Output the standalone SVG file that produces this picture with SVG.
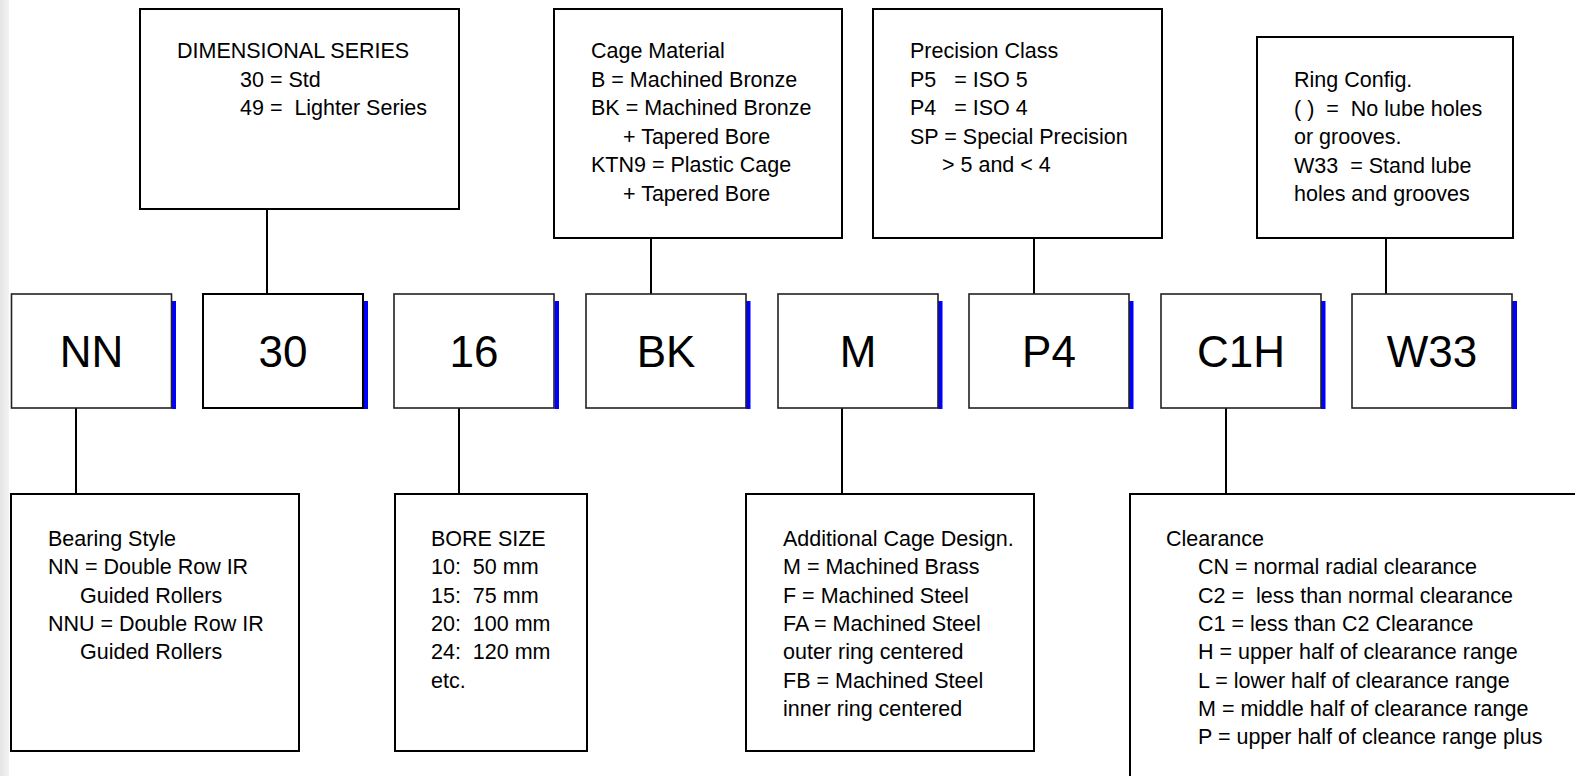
<svg xmlns="http://www.w3.org/2000/svg" width="1575" height="776" viewBox="0 0 1575 776">
<style>
  .t { font-family: "Liberation Sans", Arial, sans-serif; font-size: 21.5px; fill: #000; white-space: pre; }
  .big { font-family: "Liberation Sans", Arial, sans-serif; font-size: 44px; fill: #000; text-anchor: middle; }
  .box { fill: #fff; stroke: #000; stroke-width: 2; }
  .code { fill: #fff; stroke: #222; stroke-width: 1.6; }
  .shadow { fill: #0000ff; }
  .conn line { stroke: #000; stroke-width: 2; }
</style>
<defs>
  <linearGradient id="edge" x1="0" y1="0" x2="1" y2="0">
    <stop offset="0" stop-color="#e4e4e4"/>
    <stop offset="1" stop-color="#f3f3f3"/>
  </linearGradient>
</defs>
<rect x="0" y="0" width="1575" height="776" fill="#fff"/>
<rect x="0" y="0" width="9" height="776" fill="url(#edge)"/>

<g class="conn" id="connectors">
  <line x1="267" y1="209" x2="267" y2="294"/>
  <line x1="651" y1="238" x2="651" y2="294"/>
  <line x1="1034" y1="238" x2="1034" y2="294"/>
  <line x1="1386" y1="238" x2="1386" y2="294"/>
  <line x1="76" y1="408" x2="76" y2="494"/>
  <line x1="459" y1="408" x2="459" y2="494"/>
  <line x1="842" y1="408" x2="842" y2="494"/>
  <line x1="1226" y1="408" x2="1226" y2="494"/>
</g>

<g id="dim-series">
  <rect class="box" x="140" y="9" width="319" height="200"/>
  <text class="t" x="177" y="58">DIMENSIONAL SERIES</text>
  <text class="t" x="240" y="86.5">30 = Std</text>
  <text class="t" x="240" y="115">49 =  Lighter Series</text>
</g>

<g id="cage-material">
  <rect class="box" x="554" y="9" width="288" height="229"/>
  <text class="t" x="591" y="58">Cage Material</text>
  <text class="t" x="591" y="86.5">B = Machined Bronze</text>
  <text class="t" x="591" y="115">BK = Machined Bronze</text>
  <text class="t" x="623" y="143.5">+ Tapered Bore</text>
  <text class="t" x="591" y="172">KTN9 = Plastic Cage</text>
  <text class="t" x="623" y="200.5">+ Tapered Bore</text>
</g>

<g id="precision-class">
  <rect class="box" x="873" y="9" width="289" height="229"/>
  <text class="t" x="910" y="58">Precision Class</text>
  <text class="t" x="910" y="86.5">P5   = ISO 5</text>
  <text class="t" x="910" y="115">P4   = ISO 4</text>
  <text class="t" x="910" y="143.5">SP = Special Precision</text>
  <text class="t" x="942" y="172">&gt; 5 and &lt; 4</text>
</g>

<g id="ring-config">
  <rect class="box" x="1257" y="37" width="256" height="201"/>
  <text class="t" x="1294" y="87">Ring Config.</text>
  <text class="t" x="1294" y="115.5">( )  =  No lube holes</text>
  <text class="t" x="1294" y="144">or grooves.</text>
  <text class="t" x="1294" y="172.5">W33  = Stand lube</text>
  <text class="t" x="1294" y="201">holes and grooves</text>
</g>

<g id="code-NN">
  <rect class="shadow" x="172" y="301" width="4" height="108"/>
  <rect class="code" x="11.5" y="294" width="160" height="114"/>
  <text class="big" x="91.5" y="367">NN</text>
</g>
<g id="code-30">
  <rect class="shadow" x="363.5" y="301" width="4.5" height="108"/>
  <rect class="box" x="203" y="294" width="160" height="114" stroke-width="2.5"/>
  <text class="big" x="283" y="367">30</text>
</g>
<g id="code-16">
  <rect class="shadow" x="554.5" y="301" width="4.5" height="108"/>
  <rect class="code" x="394" y="294" width="160" height="114"/>
  <text class="big" x="474" y="367">16</text>
</g>
<g id="code-BK">
  <rect class="shadow" x="746" y="301" width="4.5" height="108"/>
  <rect class="code" x="586" y="294" width="160" height="114"/>
  <text class="big" x="666" y="367">BK</text>
</g>
<g id="code-M">
  <rect class="shadow" x="938" y="301" width="4.5" height="108"/>
  <rect class="code" x="778" y="294" width="160" height="114"/>
  <text class="big" x="858" y="367">M</text>
</g>
<g id="code-P4">
  <rect class="shadow" x="1129" y="301" width="4.5" height="108"/>
  <rect class="code" x="969" y="294" width="160" height="114"/>
  <text class="big" x="1049" y="367">P4</text>
</g>
<g id="code-C1H">
  <rect class="shadow" x="1321" y="301" width="4.5" height="108"/>
  <rect class="code" x="1161" y="294" width="160" height="114"/>
  <text class="big" x="1241" y="367">C1H</text>
</g>
<g id="code-W33">
  <rect class="shadow" x="1512" y="301" width="5" height="108"/>
  <rect class="code" x="1352" y="294" width="160" height="114"/>
  <text class="big" x="1432" y="367">W33</text>
</g>

<g id="bearing-style">
  <rect class="box" x="11" y="494" width="288" height="257"/>
  <text class="t" x="48" y="546">Bearing Style</text>
  <text class="t" x="48" y="574.3">NN = Double Row IR</text>
  <text class="t" x="80" y="602.6">Guided Rollers</text>
  <text class="t" x="48" y="630.9">NNU = Double Row IR</text>
  <text class="t" x="80" y="659.2">Guided Rollers</text>
</g>

<g id="bore-size">
  <rect class="box" x="395" y="494" width="192" height="257"/>
  <text class="t" x="431" y="546">BORE SIZE</text>
  <text class="t" x="431" y="574.3">10:  50 mm</text>
  <text class="t" x="431" y="602.6">15:  75 mm</text>
  <text class="t" x="431" y="630.9">20:  100 mm</text>
  <text class="t" x="431" y="659.2">24:  120 mm</text>
  <text class="t" x="431" y="687.5">etc.</text>
</g>

<g id="additional-cage">
  <rect class="box" x="746" y="494" width="288" height="257"/>
  <text class="t" x="783" y="546">Additional Cage Design.</text>
  <text class="t" x="783" y="574.3">M = Machined Brass</text>
  <text class="t" x="783" y="602.6">F = Machined Steel</text>
  <text class="t" x="783" y="630.9">FA = Machined Steel</text>
  <text class="t" x="783" y="659.2">outer ring centered</text>
  <text class="t" x="783" y="687.5">FB = Machined Steel</text>
  <text class="t" x="783" y="715.8">inner ring centered</text>
</g>

<g id="clearance">
  <rect class="box" x="1130" y="494" width="500" height="320"/>
  <text class="t" x="1166" y="546">Clearance</text>
  <text class="t" x="1198" y="574.3">CN = normal radial clearance</text>
  <text class="t" x="1198" y="602.6">C2 =  less than normal clearance</text>
  <text class="t" x="1198" y="630.9">C1 = less than C2 Clearance</text>
  <text class="t" x="1198" y="659.2">H = upper half of clearance range</text>
  <text class="t" x="1198" y="687.5">L = lower half of clearance range</text>
  <text class="t" x="1198" y="715.8">M = middle half of clearance range</text>
  <text class="t" x="1198" y="744.1">P = upper half of cleance range plus</text>
</g>
</svg>
